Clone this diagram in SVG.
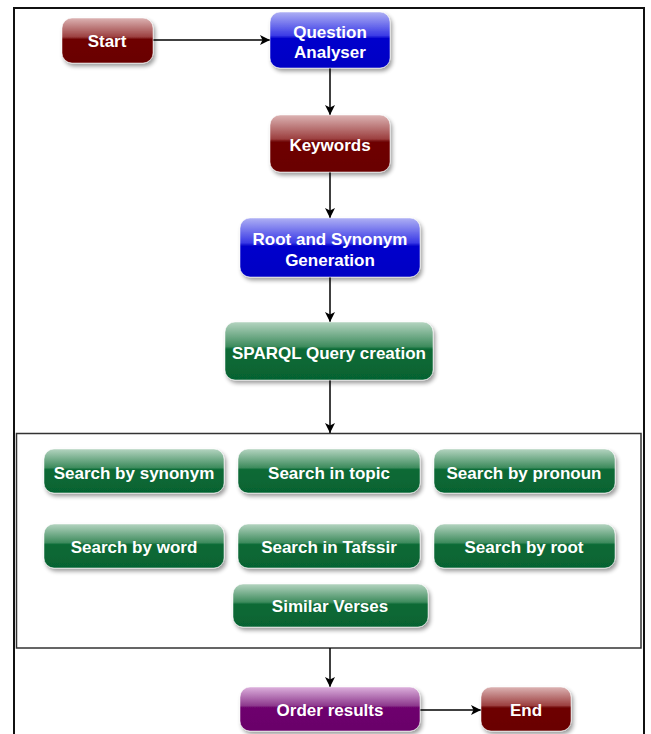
<svg xmlns="http://www.w3.org/2000/svg" width="651" height="734" viewBox="0 0 651 734">
<defs>
<linearGradient id="gMaroon" x1="0" y1="0" x2="0" y2="1">
<stop offset="0" stop-color="#dcb3b3"/><stop offset="0.42" stop-color="#9c4040"/><stop offset="0.47" stop-color="#6e0202"/><stop offset="1" stop-color="#6a0000"/>
</linearGradient>
<linearGradient id="gBlue" x1="0" y1="0" x2="0" y2="1">
<stop offset="0" stop-color="#aeb0f4"/><stop offset="0.42" stop-color="#3a3ae6"/><stop offset="0.47" stop-color="#0404cc"/><stop offset="1" stop-color="#0000c4"/>
</linearGradient>
<linearGradient id="gGreen" x1="0" y1="0" x2="0" y2="1">
<stop offset="0" stop-color="#b4d4c0"/><stop offset="0.42" stop-color="#3f8c5e"/><stop offset="0.47" stop-color="#0a6a36"/><stop offset="1" stop-color="#066332"/>
</linearGradient>
<linearGradient id="gPurple" x1="0" y1="0" x2="0" y2="1">
<stop offset="0" stop-color="#dcb0dc"/><stop offset="0.42" stop-color="#8e3a8e"/><stop offset="0.47" stop-color="#6e026e"/><stop offset="1" stop-color="#6a006a"/>
</linearGradient>
<filter id="shadow" x="-10%" y="-10%" width="125%" height="135%">
<feGaussianBlur in="SourceAlpha" stdDeviation="2"/>
<feOffset dx="2" dy="3" result="b"/>
<feComponentTransfer><feFuncA type="linear" slope="0.4"/></feComponentTransfer>
<feMerge><feMergeNode/><feMergeNode in="SourceGraphic"/></feMerge>
</filter>
<marker id="arrow" viewBox="0 0 10 10" refX="10" refY="5" markerWidth="10" markerHeight="10" markerUnits="userSpaceOnUse" orient="auto">
<path d="M0,0 L10,5 L0,10 L2.5,5 Z" fill="#000"/>
</marker>
<style>
.node rect{rx:10px;ry:10px;filter:url(#shadow);stroke:rgba(255,255,255,0.5);stroke-width:1}
.maroon rect{fill:url(#gMaroon)}
.blue rect{fill:url(#gBlue)}
.green rect{fill:url(#gGreen)}
.purple rect{fill:url(#gPurple)}
.node text{font-family:"Liberation Sans",Arial,sans-serif;font-weight:bold;font-size:17px;fill:#fff;text-anchor:middle}
.conn line{stroke:#000;stroke-width:1.5;marker-end:url(#arrow)}
.frame{fill:none;stroke:#111;stroke-width:2}
.box{fill:none;stroke:#333;stroke-width:1.5}
</style>
</defs>
<rect width="651" height="734" fill="#fff"/>
<rect class="frame" x="14" y="8" width="630" height="740"/>
<rect id="search-group" class="box" x="16.5" y="433.5" width="624.5" height="214.5"/>

<g id="connectors" class="conn">
<line x1="153" y1="40" x2="270" y2="40"/>
<line x1="330" y1="68" x2="330" y2="115"/>
<line x1="330" y1="172" x2="330" y2="218"/>
<line x1="330" y1="277" x2="330" y2="322"/>
<line x1="330" y1="380" x2="330" y2="433"/>
<line x1="330" y1="648" x2="330" y2="687"/>
<line x1="420" y1="710" x2="481" y2="710"/>
</g>

<g id="start" class="node maroon"><rect x="62" y="18" width="91" height="45"/><text x="107" y="47">Start</text></g>
<g id="question-analyser" class="node blue"><rect x="270" y="12" width="120" height="56"/><text x="330" y="38">Question</text><text x="330" y="58">Analyser</text></g>
<g id="keywords" class="node maroon"><rect x="270" y="115" width="120" height="57"/><text x="330" y="151">Keywords</text></g>
<g id="root-synonym" class="node blue"><rect x="240" y="218" width="180" height="59"/><text x="330" y="245">Root and Synonym</text><text x="330" y="266">Generation</text></g>
<g id="sparql" class="node green"><rect x="225" y="322" width="208" height="58"/><text x="329" y="359">SPARQL Query creation</text></g>

<g id="search-synonym" class="node green"><rect x="44" y="449" width="180" height="44"/><text x="134" y="479">Search by synonym</text></g>
<g id="search-topic" class="node green"><rect x="238" y="449" width="182" height="44"/><text x="329" y="479">Search in topic</text></g>
<g id="search-pronoun" class="node green"><rect x="434" y="449" width="181" height="44"/><text x="524" y="479">Search by pronoun</text></g>
<g id="search-word" class="node green"><rect x="44" y="524" width="180" height="44"/><text x="134" y="553">Search by word</text></g>
<g id="search-tafssir" class="node green"><rect x="238" y="524" width="182" height="44"/><text x="329" y="553">Search in Tafssir</text></g>
<g id="search-root" class="node green"><rect x="434" y="524" width="181" height="44"/><text x="524" y="553">Search by root</text></g>
<g id="similar-verses" class="node green"><rect x="233" y="584" width="195" height="43"/><text x="330" y="612">Similar Verses</text></g>

<g id="order-results" class="node purple"><rect x="240" y="687" width="180" height="44"/><text x="330" y="716">Order results</text></g>
<g id="end" class="node maroon"><rect x="481" y="687" width="90" height="44"/><text x="526" y="716">End</text></g>
</svg>
